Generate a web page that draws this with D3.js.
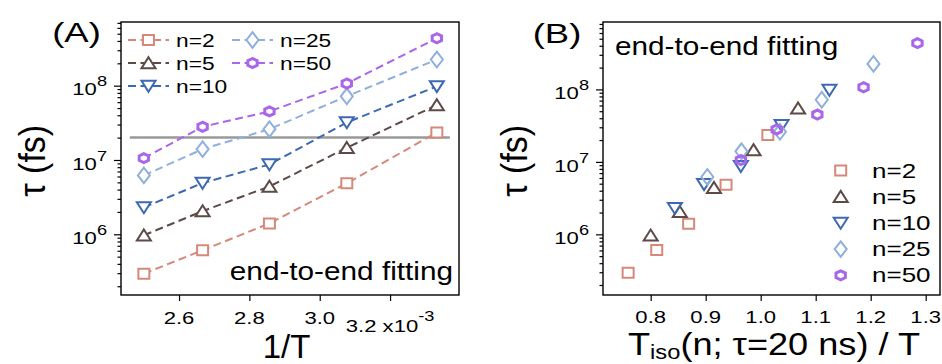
<!DOCTYPE html>
<html>
<head>
<meta charset="utf-8">
<script src="https://cdn.jsdelivr.net/npm/d3@7"></script>
<style>
  body { margin: 0; background: #fff; }
  text { font-family: "Liberation Sans", Arial, Helvetica, sans-serif; fill: #000; }
</style>
</head>
<body>
<svg id="fig" width="942" height="364"></svg>
<script>
// ---- data ----
let seriesNames = ["n=2", "n=5", "n=10", "n=25", "n=50"];

// panel A x: 1/T (x10^-3)
let invT = [2.500, 2.667, 2.857, 3.077, 3.333];

// tau (fs), one list per n
let tauN2  = [2.95e5, 6.1e5, 1.4e6, 4.85e6, 2.35e7];
let tauN5  = [9.7e5, 2.05e6, 4.4e6, 1.46e7, 5.5e7];
let tauN10 = [2.3e6, 4.9e6, 8.7e6, 3.2e7, 9.8e7];
let tauN25 = [6.2e6, 1.4e7, 2.6e7, 7.2e7, 2.25e8];
let tauN50 = [1.06e7, 2.8e7, 4.5e7, 1.07e8, 4.35e8];

// panel B x: Tiso(n; tau=20 ns) / T
let scaledN2  = [0.759, 0.811, 0.869, 0.937, 1.013];
let scaledN5  = [0.800, 0.853, 0.915, 0.987, 1.068];
let scaledN10 = [0.844, 0.897, 0.964, 1.038, 1.125];
let scaledN25 = [0.903, 0.965, 1.035, 1.111, 1.205];
let scaledN50 = [0.964, 1.029, 1.103, 1.187, 1.285];

// tau = 20 ns reference line and its extent in 1/T
let refTau = 2e7;
let refSpan = [2.46, 3.37];

let xTicksA = [2.6, 2.8, 3.0, 3.2];
let xTicksB = [0.8, 0.9, 1.0, 1.1, 1.2, 1.3];
let yTicks = [1e6, 1e7, 1e8];

let tauSeries = [tauN2, tauN5, tauN10, tauN25, tauN50];
let scaledSeries = [scaledN2, scaledN5, scaledN10, scaledN25, scaledN50];

let colors = ["#d6887b", "#5d4a47", "#3d69b3", "#8fb0dc", "#a966ea"];
let shapes = ["square", "triUp", "triDown", "diamond", "hexagon"];

const svg = d3.select("#fig");

// marker outlines, centred on 0,0
function markerPath(shape) {
  if (shape == "square") return "M-5.5,-5H5.5V5H-5.5Z";
  if (shape == "triUp") return "M0,-5.8L7,5.2L-7,5.2Z";
  if (shape == "triDown") return "M0,5.8L7,-5.2L-7,-5.2Z";
  if (shape == "diamond") return "M0,-7.8L6,0L0,7.8L-6,0Z";
  // pointy-top hexagon, a bit wide like the picture
  let pts = d3.range(6).map(function (k) {
    let a = Math.PI / 2 + k * Math.PI / 3;
    return [1.2 * 4.5 * Math.cos(a), -4.5 * Math.sin(a)];
  });
  return "M" + pts.join("L") + "Z";
}

function drawMarker(g, x, y, i, fill) {
  g.append("path")
    .attr("d", markerPath(shapes[i]))
    .attr("transform", "translate(" + x + "," + y + ")")
    .attr("fill", fill)
    .attr("stroke", colors[i])
    .attr("stroke-width", shapes[i] == "hexagon" ? 3 : 2);
}

// text with a horizontal stretch (the picture's glyphs are wide)
function label(g, x, y, str, size, sx, anchor) {
  return g.append("text")
    .attr("transform", "translate(" + x + "," + y + ") scale(" + sx + ",1)")
    .attr("text-anchor", anchor)
    .style("font-size", size + "px")
    .text(str);
}

function minorTicks(scale) {
  let d = scale.domain(), out = [];
  for (let k = 4; k <= 9; k++) {
    for (let m = 2; m <= 9; m++) {
      let v = m * Math.pow(10, k);
      if (v > d[0] && v < d[1]) out.push(v);
    }
  }
  return out;
}

// frame, y axis (log) and x axis for one panel
function drawAxes(g, x, y, xTicks) {
  let r = x.range(), t = y.range();
  g.append("rect")
    .attr("x", r[0]).attr("y", t[1])
    .attr("width", r[1] - r[0]).attr("height", t[0] - t[1])
    .attr("fill", "none").attr("stroke", "#000").attr("stroke-width", 1.4);

  let ya = g.append("g").attr("transform", "translate(" + r[0] + ",0)");
  ya.append("g").call(d3.axisLeft(y).tickValues(yTicks).tickSize(7).tickFormat(""));
  ya.append("g").call(d3.axisLeft(y).tickValues(minorTicks(y)).tickSize(3.5).tickFormat(""));

  let xa = g.append("g").attr("transform", "translate(0," + t[0] + ")");
  xa.call(d3.axisBottom(x).tickValues(xTicks).tickSize(6).tickFormat(""));

  g.selectAll(".domain").remove();
  g.selectAll(".tick line").attr("stroke", "#000").attr("stroke-width", 1.2);

  // 10^k labels
  yTicks.forEach(function (v) {
    let tx = label(g, r[0] - 14, y(v) + 9.8, "10", 17, 1.3, "end");
    tx.append("tspan").attr("dy", -9).style("font-size", "14px").text(Math.round(Math.log10(v)));
  });
}

// ================= panel A =================
const gA = svg.append("g");
const xA = d3.scaleLinear().domain([2.435, 3.396]).range([121, 459]);
const yA = d3.scaleLog().domain([Math.pow(10, 5.183), Math.pow(10, 8.857)]).range([295, 22]);

drawAxes(gA, xA, yA, xTicksA);

xTicksA.forEach(function (v) {
  if (v == 3.2) {
    let tx = label(gA, xA(v), 331.7, "3.2 x10", 17, 1.3, "middle");
    tx.append("tspan").attr("dy", -11).style("font-size", "14px").text("-3");
  } else {
    label(gA, xA(v), 323.5, d3.format(".1f")(v), 17, 1.3, "middle");
  }
});

// tau = 20 ns line
gA.append("line")
  .attr("x1", xA(refSpan[0])).attr("x2", xA(refSpan[1]))
  .attr("y1", yA(refTau)).attr("y2", yA(refTau))
  .attr("stroke", "#999").attr("stroke-width", 2.5);

let lineA = d3.line()
  .x(function (d) { return xA(d[0]); })
  .y(function (d) { return yA(d[1]); });

tauSeries.forEach(function (tau, i) {
  let pts = invT.map(function (v, j) { return [v, tau[j]]; });
  gA.append("path")
    .attr("d", lineA(pts))
    .attr("fill", "none")
    .attr("stroke", colors[i])
    .attr("stroke-width", 2)
    .attr("stroke-dasharray", "8,4.5");
  pts.forEach(function (p) { drawMarker(gA, xA(p[0]), yA(p[1]), i, "#fff"); });
});

// legend, two columns
let legCols = [[128, 148.5, 176], [232, 252.5, 280]];
let legRows = [40, 63, 86];
seriesNames.forEach(function (name, i) {
  let c = legCols[i < 3 ? 0 : 1], ry = legRows[i < 3 ? i : i - 3];
  gA.append("line")
    .attr("x1", c[0]).attr("x2", c[0] + 2 * (c[1] - c[0]))
    .attr("y1", ry).attr("y2", ry)
    .attr("stroke", colors[i]).attr("stroke-width", 2)
    .attr("stroke-dasharray", "8,4.5");
  drawMarker(gA, c[1], ry, i, "#fff");
  label(gA, c[2], ry + 6.5, name, 17.5, 1.3, "start");
});

label(gA, 453, 280, "end-to-end fitting", 25, 1.19, "end");
label(gA, 76.5, 42, "(A)", 27, 1.35, "middle");
gA.append("text")
  .attr("transform", "translate(45,160.8) rotate(-90) scale(1,1.1)")
  .attr("text-anchor", "middle")
  .style("font-size", "34px")
  .text("τ (fs)");
label(gA, 286.5, 358, "1/T", 33, 1.0, "middle");

// ================= panel B =================
const gB = svg.append("g");
const xB = d3.scaleLinear().domain([0.7133, 1.326]).range([603, 940]);
const yB = d3.scaleLog().domain([Math.pow(10, 5.163), Math.pow(10, 8.93)]).range([295, 22]);

drawAxes(gB, xB, yB, xTicksB);

xTicksB.forEach(function (v) {
  label(gB, xB(v), 323, d3.format(".1f")(v), 17, 1.3, "middle");
});

tauSeries.forEach(function (tau, i) {
  scaledSeries[i].forEach(function (v, j) {
    drawMarker(gB, xB(v), yB(tau[j]), i, "none");
  });
});

// legend, markers only
seriesNames.forEach(function (name, i) {
  let ry = 170.5 + 26.2 * i;
  drawMarker(gB, 840.7, ry, i, "none");
  label(gB, 872, ry + 7, name, 20, 1.3, "start");
});

label(gB, 615, 55, "end-to-end fitting", 25, 1.19, "start");
label(gB, 557, 43, "(B)", 27, 1.35, "middle");
gB.append("text")
  .attr("transform", "translate(527,160.8) rotate(-90) scale(1,1.1)")
  .attr("text-anchor", "middle")
  .style("font-size", "34px")
  .text("τ (fs)");

let xl = label(gB, 774, 354.5, "T", 32, 1.13, "middle");
xl.append("tspan").attr("dy", 4.5).style("font-size", "21px").text("iso");
xl.append("tspan").attr("dy", -4.5).text("(n; τ=20 ns) / T");
</script>
</body>
</html>
